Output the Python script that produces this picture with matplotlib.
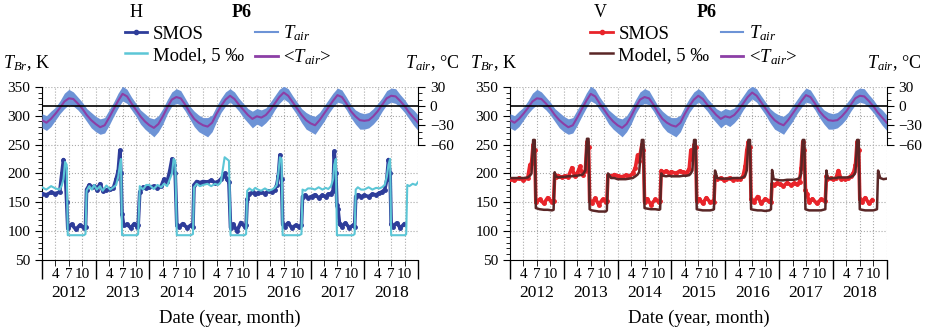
import numpy as np
import matplotlib
matplotlib.use('Agg')
import matplotlib.pyplot as plt
import matplotlib.transforms as mtransforms
from matplotlib.lines import Line2D
from matplotlib.ticker import FixedLocator, MultipleLocator

plt.rcParams['font.family'] = 'Liberation Serif'
plt.rcParams['mathtext.fontset'] = 'custom'
plt.rcParams['mathtext.rm'] = 'Liberation Serif'
plt.rcParams['mathtext.it'] = 'Liberation Serif:italic'

nan = np.nan

# ---------------- H polarisation (decimal years) ----------------
t_h = [2012.00, 2012.08, 2012.17, 2012.25, 2012.33, 2012.37, 2012.40, 2012.43, 2012.46, 2012.48,
       2012.55, 2012.63, 2012.70, 2012.78, 2012.81, 2012.83, 2012.88, 2012.93, 2012.97,
       2013.02, 2013.08, 2013.13, 2013.20, 2013.27, 2013.33, 2013.38, 2013.42, 2013.45, 2013.47,
       2013.49, 2013.52, 2013.58, 2013.65, 2013.72, 2013.77, 2013.79, 2013.82, 2013.88, 2013.94,
       2014.00, 2014.08, 2014.15, 2014.22, 2014.27, 2014.33, 2014.38, 2014.42, 2014.45, 2014.48,
       2014.51, 2014.55, 2014.62, 2014.70, 2014.77, 2014.81, 2014.83, 2014.88, 2014.94,
       2015.00, 2015.08, 2015.15, 2015.22, 2015.28, 2015.33, 2015.37, 2015.40, 2015.44, 2015.48,
       2015.51, 2015.56, 2015.63, 2015.70, 2015.77, 2015.80, 2015.82, 2015.86, 2015.92, 2015.97,
       2016.02, 2016.08, 2016.15, 2016.22, 2016.28, 2016.33, 2016.37, 2016.40, 2016.43, 2016.46,
       2016.48, 2016.52, 2016.58, 2016.65, 2016.72, 2016.79, 2016.83, 2016.85, 2016.90, 2016.95,
       2017.02, 2017.08, 2017.15, 2017.22, 2017.28, 2017.33, 2017.38, 2017.42, 2017.44, 2017.47,
       2017.49, 2017.51, 2017.54, 2017.58, 2017.65, 2017.72, 2017.79, 2017.82, 2017.84, 2017.88, 2017.94,
       2018.00, 2018.08, 2018.15, 2018.22, 2018.28, 2018.33, 2018.38, 2018.42, 2018.45, 2018.48,
       2018.50, 2018.53, 2018.60, 2018.67, 2018.74, 2018.76, 2018.78, 2018.80, 2018.84, 2018.90,
       2018.96, 2019.00]
smos_h = [165, 163, 167, 165, 168, 200, 224, 210, 150, 105,
          112, 103, 110, 106, 108, 172, 180, 176, 178,
          172, 182, 170, 171, 173, 175, 190, 205, 240, 200,
          130, 110, 112, 106, 113, 108, 110, 168, 176, 174,
          176, 178, 175, 178, 190, 185, 205, 225, 215, 200,
          110, 107, 113, 106, 110, 108, 180, 186, 184,
          186, 185, 188, 184, 186, 190, 195, 200, 190, 185,
          106, 112, 100, 115, 108, 110, 155, 165, 167, 165,
          166, 168, 165, 170, 168, 172, 180, 195, 232, 190,
          112, 108, 114, 106, 110, 108, 110, 160, 162, 158,
          160, 163, 158, 162, 160, 164, 165, 170, 238, 200,
          145, 138, 112, 108, 114, 106, 110, 108, 160, 163, 160,
          162, 160, 164, 163, 166, 168, 172, 190, 224, 200,
          112, 108, 114, 106, 112, nan, nan, nan, nan, nan,
          nan, nan]
model_h = [176, 172, 178, 174, 172, 180, 190, 220, 215, 93,
           93, 93, 93, 93, 95, 170, 178, 172, 180,
           172, 178, 170, 179, 172, 176, 180, 195, 215, 225,
           93, 93, 93, 93, 93, 93, 95, 178, 172, 180,
           180, 173, 180, 176, 182, 178, 190, 200, 225, 222,
           93, 93, 93, 93, 93, 95, 176, 182, 178,
           180, 182, 178, 182, 180, 185, 210, 228, 225, 222,
           93, 93, 93, 93, 93, 95, 170, 174, 170, 175,
           172, 170, 174, 170, 172, 175, 180, 200, 228, 225,
           93, 93, 93, 93, 93, 93, 95, 172, 170, 174,
           174, 172, 176, 172, 175, 173, 178, 190, 215, 225,
           93, 93, 93, 93, 93, 93, 93, 95, 172, 176, 172,
           172, 176, 172, 175, 174, 176, 180, 195, 215, 225,
           93, 93, 93, 93, 93, 93, 95, 180, 178, 182,
           180, 185]

# ---------------- V polarisation ----------------
t_v = [2012.00, 2012.08, 2012.17, 2012.25, 2012.33, 2012.37, 2012.40, 2012.43, 2012.46, 2012.48,
       2012.55, 2012.63, 2012.70, 2012.78, 2012.81, 2012.83, 2012.85, 2012.90, 2012.96,
       2013.02, 2013.08, 2013.15, 2013.20, 2013.25, 2013.30, 2013.35, 2013.40, 2013.43, 2013.46,
       2013.48, 2013.52, 2013.58, 2013.65, 2013.72, 2013.78, 2013.80, 2013.82, 2013.88, 2013.94,
       2014.00, 2014.08, 2014.15, 2014.22, 2014.28, 2014.33, 2014.37, 2014.40, 2014.45, 2014.48,
       2014.50, 2014.55, 2014.62, 2014.70, 2014.77, 2014.79, 2014.81, 2014.84, 2014.90, 2014.96,
       2015.00, 2015.08, 2015.15, 2015.22, 2015.28, 2015.33, 2015.36, 2015.39, 2015.42, 2015.45,
       2015.47, 2015.52, 2015.58, 2015.65, 2015.72, 2015.77, 2015.79, 2015.81, 2015.85, 2015.92, 2015.97,
       2016.02, 2016.08, 2016.15, 2016.22, 2016.28, 2016.33, 2016.37, 2016.40, 2016.43, 2016.46,
       2016.48, 2016.53, 2016.60, 2016.67, 2016.74, 2016.82, 2016.85, 2016.87, 2016.90, 2016.96,
       2017.02, 2017.08, 2017.15, 2017.22, 2017.28, 2017.33, 2017.38, 2017.41, 2017.44, 2017.47,
       2017.49, 2017.52, 2017.56, 2017.62, 2017.70, 2017.78, 2017.86, 2017.88, 2017.90, 2017.96,
       2018.00, 2018.06, 2018.10, 2018.15, 2018.22, 2018.28, 2018.33, 2018.38, 2018.42, 2018.45,
       2018.48, 2018.50, 2018.54, 2018.60, 2018.67, 2018.73, 2018.75, 2018.79, 2018.82, 2018.84,
       2018.88, 2018.94, 2019.00]
smos_v = [190, 188, 192, 189, 192, 215, 218, 250, 240, 150,
          155, 148, 158, 150, 152, 198, 194, 196, 193,
          196, 193, 210, 196, 200, 212, 198, 205, 255, 245,
          152, 148, 157, 146, 155, 150, 152, 197, 195, 198,
          196, 194, 197, 195, 200, 210, 232, 222, 250, 240,
          150, 156, 146, 155, 150, 152, 205, 202, 204, 201,
          203, 200, 204, 202, 201, 208, 240, 225, 250, 245,
          152, 156, 148, 158, 150, 152, 150, 195, 190, 192, 189,
          190, 192, 189, 191, 190, 195, 212, 240, 255, 245,
          155, 150, 160, 148, 156, 152, 150, 182, 180, 183,
          182, 178, 184, 180, 183, 181, 185, 210, 255, 240,
          172, 165, 150, 156, 148, 155, 152, 195, 190, 192,
          190, 192, 205, 191, 190, 192, 195, 200, 215, 255,
          240, 155, 150, 158, 148, 154, nan, nan, nan, nan,
          nan, nan, nan]
model_v = [192, 192, 192, 192, 193, 196, 200, 258, 258, 140,
           138, 137, 137, 136, 137, 202, 195, 193, 194,
           194, 195, 195, 196, 196, 197, 198, 205, 260, 260,
           138, 136, 135, 134, 134, 134, 136, 200, 192, 192,
           190, 190, 190, 191, 192, 195, 198, 202, 258, 258,
           140, 139, 138, 138, 137, 138, 200, 196, 195, 196,
           195, 195, 195, 196, 196, 197, 200, 205, 258, 258,
           138, 137, 136, 136, 136, 137, 138, 205, 192, 191, 191,
           191, 191, 192, 192, 192, 193, 196, 205, 258, 258,
           138, 137, 136, 136, 135, 136, 138, 206, 190, 189,
           188, 188, 189, 189, 189, 190, 192, 200, 258, 258,
           138, 137, 136, 136, 136, 136, 138, 205, 192, 191,
           192, 192, 193, 193, 193, 193, 194, 196, 202, 258,
           258, 138, 137, 136, 136, 136, 136, 137, 138, 205,
           192, 190, 191]

# ---------------- air temperature, monthly (Jan 2012 .. Jan 2019) ----------------
t_month = 2012 + np.arange(85) / 12
tair_mean = [-22, -26, -20, -12, -3, 7, 12, 11, 4, -4, -14, -22,
             -28, -33, -30, -18, -5, 8, 19, 15, 4, -6, -16, -24,
             -30, -34, -28, -16, -2, 10, 14, 12, 2, -10, -20, -26,
             -30, -32, -26, -12, 0, 10, 16, 11, 2, -6, -14, -20,
             -16, -18, -14, -6, 4, 14, 21, 16, 6, -4, -14, -22,
             -27, -30, -22, -12, -2, 8, 17, 14, 4, -8, -16, -22,
             -23, -22, -16, -8, 2, 12, 16, 15, 8, 0, -10, -18,
             -26]
tair_hi = [-12, -15, -8, -2, 8, 20, 26, 22, 14, 6, -4, -10,
           -16, -20, -18, -6, 6, 20, 31, 26, 14, 4, -6, -12,
           -18, -20, -15, -4, 10, 22, 27, 24, 12, 0, -8, -14,
           -18, -18, -14, 0, 12, 22, 27, 22, 12, 4, -4, -8,
           -4, -6, -3, 6, 16, 26, 31, 27, 16, 6, -4, -10,
           -14, -16, -10, 0, 10, 20, 28, 25, 14, 2, -6, -10,
           -12, -10, -4, 4, 13, 24, 28, 27, 18, 10, 0, -6,
           -14]
tair_lo = [-34, -38, -32, -22, -12, -4, 2, 0, -6, -14, -24, -34,
           -40, -44, -42, -30, -16, -3, 8, 4, -6, -16, -28, -36,
           -42, -48, -40, -28, -12, 0, 4, 2, -8, -20, -32, -40,
           -44, -48, -40, -24, -10, 0, 6, 0, -8, -18, -26, -34,
           -28, -32, -26, -18, -6, 4, 11, 6, -4, -14, -26, -36,
           -40, -44, -34, -24, -12, -2, 6, 4, -6, -18, -28, -36,
           -36, -34, -28, -20, -8, 2, 6, 4, -2, -10, -20, -30,
           -38]

years = [2012, 2013, 2014, 2015, 2016, 2017, 2018]
month_labels = ['4', '7', '10']

tair_color = '#6d93d6'
mean_color = '#8c3fa6'


def draw_panel(ax, t, smos, model, smos_color, model_color, model_lw):
    ax.plot(t, smos, color=smos_color, lw=2.6, marker='o', ms=2.5, zorder=3)
    ax.plot(t, model, color=model_color, lw=model_lw, zorder=4)
    ax.set_xlim(2012, 2019)
    ax.set_ylim(50, 350)
    ax.yaxis.set_major_locator(MultipleLocator(50))
    ax.yaxis.set_minor_locator(MultipleLocator(10))
    ax.tick_params(axis='y', which='major', direction='out', length=5, labelsize=11)
    ax.tick_params(axis='y', which='minor', direction='out', length=3)
    ax.set_xticks(years + [2019])
    ax.set_xticklabels([])
    minor_pos = [y + f for y in years for f in (0.25, 0.5, 0.75)]
    ax.set_xticks(minor_pos, minor=True)
    ax.set_xticklabels(month_labels * len(years), minor=True)
    ax.tick_params(axis='x', which='major', direction='out', length=14, width=1)
    ax.tick_params(axis='x', which='minor', direction='out', length=4, pad=2, labelsize=11)
    ax.grid(True, which='both', axis='x', color='#aaaaaa', ls=':', lw=0.8)
    ax.grid(True, which='major', axis='y', color='#aaaaaa', ls=':', lw=0.8)
    ax.spines['top'].set_visible(False)
    ax.spines['right'].set_visible(False)
    trans = mtransforms.blended_transform_factory(ax.transData, ax.transAxes)
    for y in years:
        ax.text(y + 0.5, -0.19, str(y), transform=trans, ha='center', va='center', fontsize=12.5)
    ax.text(0.5, -0.335, 'Date (year, month)', transform=ax.transAxes,
            ha='center', va='center', fontsize=13.5)

    ax2 = ax.twinx()
    ax2.fill_between(t_month, tair_lo, tair_hi, color=tair_color, lw=0, zorder=1)
    ax2.plot(t_month, tair_mean, color=mean_color, lw=1.5, zorder=2)
    ax2.axhline(0, color='black', lw=1.2, zorder=3)
    ax2.set_ylim(-240, 30)
    ax2.set_yticks([-60, -30, 0, 30])
    ax2.yaxis.set_minor_locator(FixedLocator(range(-60, 31, 10)))
    ax2.tick_params(axis='y', which='major', direction='out', length=5, labelsize=11)
    ax2.tick_params(axis='y', which='minor', direction='out', length=3)
    for s in ('top', 'left', 'bottom'):
        ax2.spines[s].set_visible(False)
    ax2.spines['right'].set_bounds(-60, 30)
    return ax2


fig = plt.figure(figsize=(9.31, 3.30), dpi=100)
ax_h = fig.add_axes([0.0451, 0.212, 0.4039, 0.525])
ax_v = fig.add_axes([0.5478, 0.212, 0.4046, 0.525])

draw_panel(ax_h, t_h, smos_h, model_h, '#2e3d9a', '#5cc6d6', 1.5)
draw_panel(ax_v, t_v, smos_v, model_v, '#e8242a', '#5a2626', 1.8)

# titles and axis captions
fig.text(0.146, 0.962, 'H', ha='center', va='center', fontsize=13)
fig.text(0.260, 0.962, 'P6', ha='center', va='center', fontsize=13, fontweight='bold')
fig.text(0.645, 0.962, 'V', ha='center', va='center', fontsize=13)
fig.text(0.759, 0.962, 'P6', ha='center', va='center', fontsize=13, fontweight='bold')
for x0 in (0.003, 0.505):
    fig.text(x0, 0.809, r'$T_{Br}$, K', ha='left', va='center', fontsize=13)
for x1 in (0.493, 0.990):
    fig.text(x1, 0.809, r'$T_{air}$, °C', ha='right', va='center', fontsize=13)

# legends
for x0, sc, mc in ((0.134, '#2e3d9a', '#5cc6d6'), (0.634, '#e8242a', '#5a2626')):
    handles = [Line2D([], [], color=sc, lw=2, marker='o', ms=3),
               Line2D([], [], color=mc, lw=1.8),
               Line2D([], [], color=tair_color, lw=1.5),
               Line2D([], [], color=mean_color, lw=2)]
    labels = ['SMOS', 'Model, 5 ‰', r'$T_{air}$', r'<$T_{air}$>']
    fig.legend(handles, labels, loc='upper left', bbox_to_anchor=(x0, 0.928), ncol=2,
               frameon=False, fontsize=13.5, handlelength=1.2, handletextpad=0.3,
               columnspacing=0.6, labelspacing=0.2, borderpad=0, borderaxespad=0)

plt.savefig('out.png', dpi=100)
